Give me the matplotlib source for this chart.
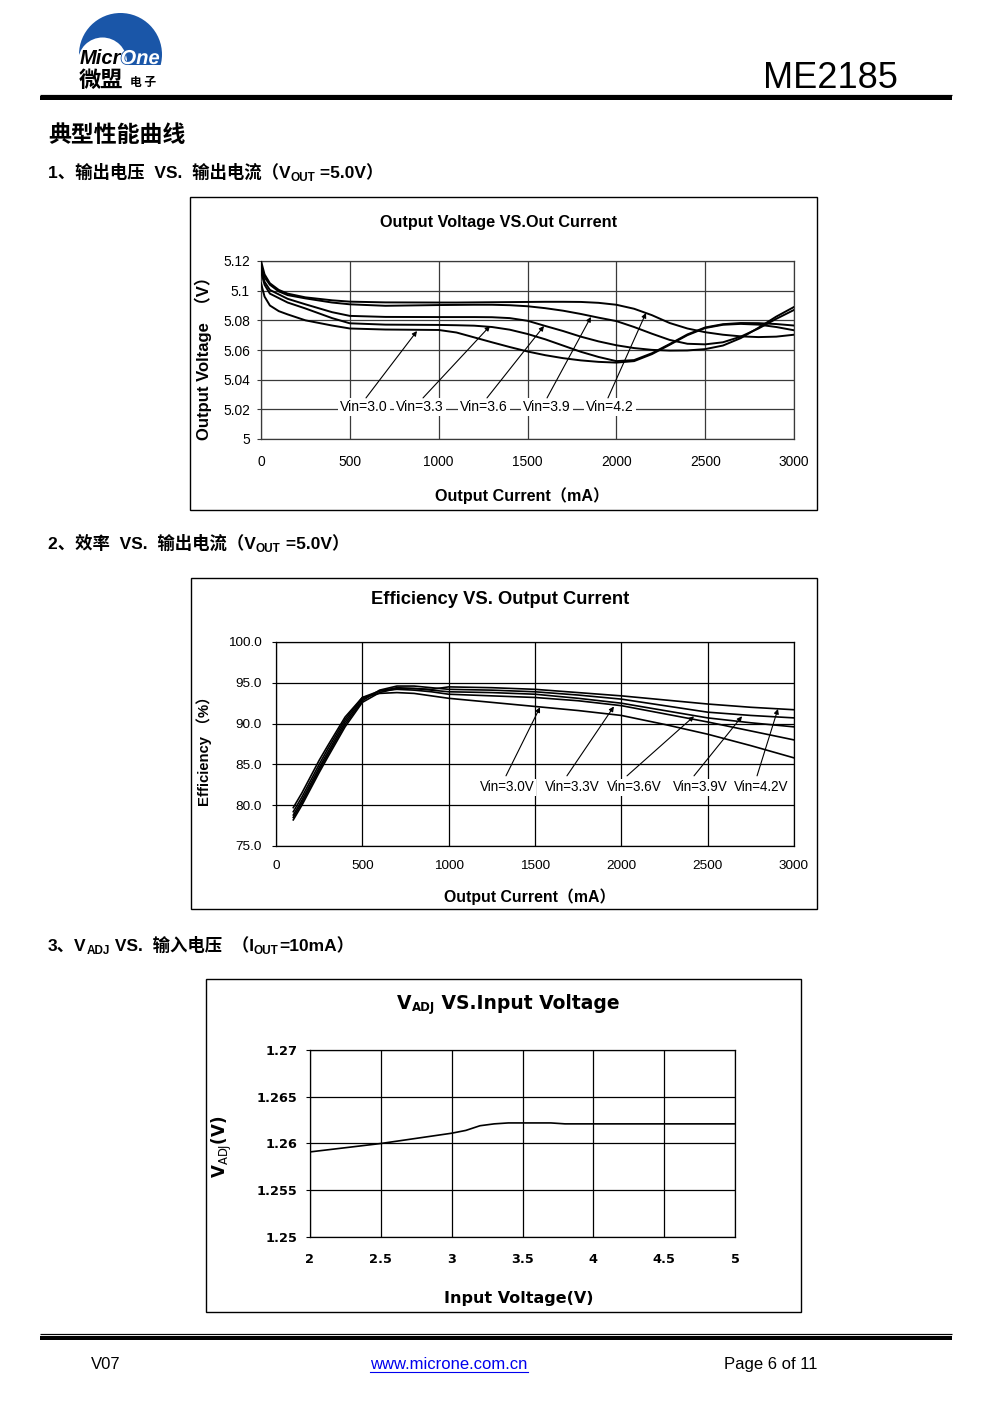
import matplotlib
matplotlib.use('Agg')
import matplotlib.pyplot as plt
from matplotlib import font_manager
from matplotlib.patches import Circle, Rectangle
import matplotlib.patheffects as pe

W, H = 991, 1403
names = {f.name for f in font_manager.fontManager.ttflist}
HAS_NARROW = 'Liberation Sans Narrow' in names
NARROW = 'Liberation Sans Narrow' if HAS_NARROW else 'Liberation Sans'
NK = 1.0 if HAS_NARROW else 0.92
SANS = 'Liberation Sans'
WIDE = 'DejaVu Sans'
CJK = 'Noto Sans CJK SC'
MIX = [SANS, CJK, 'DejaVu Sans']
NMIX = [NARROW, CJK, 'DejaVu Sans']
WMIX = [WIDE, CJK]

plt.rcParams['font.family'] = MIX
plt.rcParams['mathtext.fontset'] = 'dejavusans'

# ---------------- data: chart 1 (output voltage vs output current) ----------------
i_out1 = [0, 20, 50, 100, 150, 250, 400, 500, 700, 1000, 1100, 1200, 1300, 1400, 1500,
          1600, 1700, 1800, 1900, 2000, 2100, 2200, 2300, 2400, 2500, 2600, 2700, 2800,
          2900, 3000]
vout_42 = [5.120, 5.111, 5.105, 5.1005, 5.098, 5.0955, 5.0935, 5.0926, 5.0921, 5.0920, 5.0920,
           5.0921, 5.0922, 5.0923, 5.0924, 5.0925, 5.0925, 5.0924, 5.0918, 5.0905, 5.0878,
           5.0835, 5.0782, 5.0745, 5.0720, 5.0703, 5.0692, 5.0687, 5.0690, 5.0703]
vout_39 = [5.117, 5.109, 5.104, 5.0995, 5.097, 5.0948, 5.0920, 5.0908, 5.0898, 5.0903, 5.0904,
           5.0905, 5.0905, 5.0902, 5.0895, 5.0882, 5.0865, 5.0843, 5.0818, 5.0795, 5.0755,
           5.0710, 5.0668, 5.0642, 5.0638, 5.0652, 5.0690, 5.0745, 5.0810, 5.0870]
vout_36 = [5.115, 5.106, 5.1005, 5.0975, 5.0945, 5.0908, 5.0855, 5.0830, 5.0823, 5.0822, 5.0822,
           5.0822, 5.0821, 5.0815, 5.0797, 5.0762, 5.0728, 5.0690, 5.0658, 5.0632, 5.0613,
           5.0601, 5.0596, 5.0597, 5.0606, 5.0630, 5.0680, 5.0750, 5.0825, 5.0890]
vout_33 = [5.113, 5.104, 5.098, 5.095, 5.092, 5.088, 5.0815, 5.0780, 5.0771, 5.0769, 5.0767,
           5.0764, 5.0755, 5.0737, 5.0708, 5.0672, 5.0630, 5.0588, 5.0553, 5.0525, 5.0532,
           5.0578, 5.0640, 5.0705, 5.0752, 5.0774, 5.0782, 5.0781, 5.0775, 5.0765]
vout_30 = [5.105, 5.096, 5.090, 5.0862, 5.084, 5.0800, 5.0765, 5.0745, 5.0738, 5.0735, 5.0718,
           5.0685, 5.0652, 5.0620, 5.0590, 5.0565, 5.0545, 5.0530, 5.0520, 5.0515, 5.0525,
           5.0572, 5.0635, 5.0700, 5.0748, 5.0770, 5.0776, 5.0771, 5.0755, 5.0733]
labels1 = ['Vin=3.0', 'Vin=3.3', 'Vin=3.6', 'Vin=3.9', 'Vin=4.2']
xticks1 = [0, 500, 1000, 1500, 2000, 2500, 3000]
yticks1 = [5.00, 5.02, 5.04, 5.06, 5.08, 5.10, 5.12]
yticklabels1 = ['5', '5.02', '5.04', '5.06', '5.08', '5.1', '5.12']

# ---------------- data: chart 2 (efficiency vs output current) ----------------
i_out2 = [100, 150, 200, 250, 300, 400, 500, 600, 700, 800, 900, 1000, 1250, 1500, 1750,
          2000, 2250, 2500, 2750, 3000]
eff_42 = [78.2, 80.0, 82.0, 84.0, 85.9, 89.6, 92.6, 93.8, 94.3, 94.3, 94.2, 94.5, 94.4, 94.2,
          93.8, 93.4, 92.9, 92.4, 92.0, 91.7]
eff_39 = [78.5, 80.3, 82.3, 84.3, 86.2, 89.9, 92.8, 94.1, 94.6, 94.6, 94.4, 94.2, 94.1, 93.9,
          93.5, 93.0, 92.2, 91.4, 91.0, 90.7]
eff_36 = [78.8, 80.6, 82.6, 84.6, 86.5, 90.2, 93.0, 94.0, 94.4, 94.3, 94.1, 93.9, 93.8, 93.6,
          93.1, 92.5, 91.6, 90.7, 90.1, 89.6]
eff_33 = [79.2, 81.0, 83.0, 85.0, 86.9, 90.5, 93.2, 94.0, 94.2, 94.1, 93.9, 93.6, 93.4, 93.2,
          92.8, 92.2, 91.2, 90.2, 89.1, 88.0]
eff_30 = [79.7, 81.5, 83.5, 85.5, 87.3, 90.8, 93.2, 93.7, 93.8, 93.7, 93.4, 93.1, 92.6, 92.1,
          91.6, 91.0, 89.9, 88.7, 87.3, 85.8]
labels2 = ['Vin=3.0V', 'Vin=3.3V', 'Vin=3.6V', 'Vin=3.9V', 'Vin=4.2V']
xticks2 = [0, 500, 1000, 1500, 2000, 2500, 3000]
yticks2 = [75.0, 80.0, 85.0, 90.0, 95.0, 100.0]

# ---------------- data: chart 3 (VADJ vs input voltage) ----------------
vin3 = [2.0, 2.5, 3.0, 3.1, 3.2, 3.3, 3.4, 3.5, 3.6, 3.7, 3.75, 3.8, 4.0, 4.5, 5.0]
vadj3 = [1.2591, 1.2600, 1.2611, 1.2614, 1.2619, 1.2621, 1.2622, 1.2622, 1.2622, 1.2622,
         1.26215, 1.2621, 1.2621, 1.2621, 1.2621]
xticks3 = [2, 2.5, 3, 3.5, 4, 4.5, 5]
xticklabels3 = ['2', '2.5', '3', '3.5', '4', '4.5', '5']
yticks3 = [1.25, 1.255, 1.26, 1.265, 1.27]
yticklabels3 = ['1.25', '1.255', '1.26', '1.265', '1.27']

# ---------------- figure / page ----------------
fig = plt.figure(figsize=(W / 100, H / 100), dpi=100)
page = fig.add_axes([0, 0, 1, 1], zorder=0)
page.set_xlim(0, W)
page.set_ylim(H, 0)
page.axis('off')
renderer = fig.canvas.get_renderer()
PX = 0.72  # points per pixel


def hline(y, x0, x1, px):
    page.plot([x0, x1], [y, y], color='black', lw=px * PX, solid_capstyle='butt')


def box(x0, y0, x1, y1):
    page.add_patch(Rectangle((x0, y0), x1 - x0, y1 - y0, fill=False, ec='black', lw=1.0))


def seq(x, y, parts, weight='bold'):
    for s, size, dy, fam in parts:
        t = page.text(x, y + dy, s, fontsize=size, fontweight=weight, family=fam,
                      va='baseline', ha='left')
        x += t.get_window_extent(renderer).width
    return x


def chart_axes(x0, y0, x1, y1):
    return fig.add_axes([x0 / W, 1 - y1 / H, (x1 - x0) / W, (y1 - y0) / H], zorder=2)


# ---------------- header ----------------
blue = '#1a56a8'
clip = Rectangle((60, 0), 120, 65, transform=page.transData)
outer = Circle((120.5, 54.5), 41.5, fc=blue, ec='none', zorder=2)
page.add_patch(outer)
outer.set_clip_path(clip)
inner = Circle((102.5, 62), 24.5, fc='white', ec='none', zorder=3)
page.add_patch(inner)
inner.set_clip_path(clip)
tm = page.text(80, 64, 'Micr', fontsize=14.5, fontweight='bold', style='italic', family=SANS,
               color='black', va='baseline', ha='left', zorder=4)
mw = tm.get_window_extent(renderer).width
page.text(80 + mw - 1, 64, 'One', fontsize=14.5, fontweight='bold', style='italic', family=SANS,
          color='white', va='baseline', ha='left', zorder=4,
          path_effects=[pe.withStroke(linewidth=1.2, foreground=blue)])
page.text(79, 87, '微盟', fontsize=16, fontweight='bold', family=[CJK], va='baseline',
          ha='left', zorder=4)
page.text(130, 86, '电 子', fontsize=8.5, fontweight='bold', family=[CJK], va='baseline',
          ha='left', zorder=4)
page.text(898, 88, 'ME2185', fontsize=26, family=SANS, va='baseline', ha='right')
hline(94.5, 40, 952, 1.2)
hline(98, 40, 952, 4)

# ---------------- section headings ----------------
page.text(48, 142, '典型性能曲线', fontsize=16.5, fontweight='bold', family=[CJK],
          va='baseline', ha='left')
seq(48, 178, [('1、输出电压  VS.  输出电流（V', 12.5, 0, MIX), ('OUT', 8.5, 3, MIX),
              (' =5.0V）', 12.5, 0, MIX)])
seq(48, 549, [('2、效率  VS.  输出电流（V', 12.5, 0, MIX), ('OUT', 8.5, 3, MIX),
              (' =5.0V）', 12.5, 0, MIX)])
seq(48, 951, [('3、V', 12.5, 0, MIX), ('ADJ', 8.5, 3, MIX), (' VS.  输入电压  （I', 12.5, 0, MIX),
              ('OUT', 8.5, 3, MIX), ('=10mA）', 12.5, 0, MIX)])

GRID = '#3a3a3a'

# ---------------- chart 1 ----------------
box(190, 197, 817, 510)
page.text(499, 223, 'Output Voltage VS.Out Current', fontsize=12.7 * NK, fontweight='bold',
          family=NMIX, ha='center', va='center')
page.text(203, 354, 'Output Voltage  （V）', fontsize=12, fontweight='bold', family=MIX,
          rotation=90, ha='center', va='center')
page.text(522, 496, 'Output Current（mA）', fontsize=12.6 * NK, fontweight='bold', family=NMIX,
          ha='center', va='center')
ax1 = chart_axes(261, 261, 794, 439)
for v in [vout_30, vout_33, vout_36, vout_39, vout_42]:
    ax1.plot(i_out1, v, color='black', lw=1.4, zorder=3)
ax1.set_xlim(0, 3000)
ax1.set_ylim(5.0, 5.12)
ax1.set_xticks(xticks1)
ax1.set_xticklabels([str(t) for t in xticks1])
ax1.set_yticks(yticks1)
ax1.set_yticklabels(yticklabels1)
ax1.grid(True, color=GRID, lw=0.9)
for s in ax1.spines.values():
    s.set_color(GRID)
    s.set_linewidth(0.9)
ax1.tick_params(axis='y', length=3, pad=5, color=GRID)
ax1.tick_params(axis='x', length=0, pad=11.5)
for t in ax1.get_xticklabels() + ax1.get_yticklabels():
    t.set_family(NARROW)
    t.set_fontsize(10.8 * NK)
lab_x1 = [580, 895, 1255, 1610, 1964]
tail1 = [(591, 5.0277), (912, 5.0277), (1272, 5.0277), (1610, 5.0277), (1953, 5.0277)]
head1 = [(878, 5.0728), (1289, 5.0762), (1593, 5.0762), (1857, 5.0823), (2167, 5.0850)]
for lab, lx, tl, hd in zip(labels1, lab_x1, tail1, head1):
    ax1.text(lx, 5.0216, lab, fontsize=11 * NK, family=NARROW, ha='center', va='center',
             zorder=5, bbox=dict(fc='white', ec='none', pad=1.6))
    ax1.annotate('', xy=hd, xytext=tl, zorder=6,
                 arrowprops=dict(arrowstyle='-|>', color='black', lw=0.8,
                                 mutation_scale=7, shrinkA=0, shrinkB=0))

# ---------------- chart 2 ----------------
box(191, 578, 817, 909)
page.text(500, 600, 'Efficiency VS. Output Current', fontsize=13.2, fontweight='bold',
          family=MIX, ha='center', va='center')
page.text(204, 748, 'Efficiency （%）', fontsize=10.7, fontweight='bold', family=MIX,
          rotation=90, ha='center', va='center')
page.text(530, 897, 'Output Current（mA）', fontsize=11.4, fontweight='bold', family=MIX,
          ha='center', va='center')
ax2 = chart_axes(276, 642, 794, 846)
for v in [eff_30, eff_33, eff_36, eff_39, eff_42]:
    ax2.plot(i_out2, v, color='black', lw=1.2, zorder=3)
ax2.set_xlim(0, 3000)
ax2.set_ylim(75, 100)
ax2.set_xticks(xticks2)
ax2.set_xticklabels([str(t) for t in xticks2])
ax2.set_yticks(yticks2)
ax2.set_yticklabels(['%.1f' % t for t in yticks2])
ax2.grid(True, color='black', lw=0.9)
for s in ax2.spines.values():
    s.set_color('black')
    s.set_linewidth(0.9)
ax2.tick_params(axis='y', length=3, pad=7, labelsize=9.7)
ax2.tick_params(axis='x', length=0, pad=10, labelsize=9.7)
lab_x2 = [1338, 1714, 2073, 2456, 2809]
tail2 = [(1332, 83.6), (1685, 83.6), (2033, 83.6), (2421, 83.6), (2786, 83.6)]
head2 = [(1529, 92.0), (1957, 92.1), (2421, 90.9), (2699, 90.9), (2907, 91.8)]
for lab, lx, tl, hd in zip(labels2, lab_x2, tail2, head2):
    ax2.text(lx, 82.2, lab, fontsize=10.6 * NK, family=NARROW, ha='center', va='center',
             zorder=5, bbox=dict(fc='white', ec='none', pad=1.0))
    ax2.annotate('', xy=hd, xytext=tl, zorder=6,
                 arrowprops=dict(arrowstyle='-|>', color='black', lw=0.8,
                                 mutation_scale=7, shrinkA=0, shrinkB=0))

# ---------------- chart 3 ----------------
box(206, 979, 801, 1312)
seq(397, 1009, [('V', 13.5, 0, WMIX), ('ADJ', 8.5, 2, WMIX), (' VS.Input Voltage', 13.5, 0, WMIX)])
page.text(222, 1147, r'$\mathbf{V}_{\mathrm{ADJ}}\mathbf{(V)}$', fontsize=12,
          rotation=90, ha='center', va='center')
page.text(519, 1298, 'Input Voltage(V)', fontsize=11.5, fontweight='bold', family=WMIX,
          ha='center', va='center')
ax3 = chart_axes(310, 1050, 735, 1237)
ax3.plot(vin3, vadj3, color='black', lw=1.2, zorder=3)
ax3.set_xlim(2, 5)
ax3.set_ylim(1.25, 1.27)
ax3.set_xticks(xticks3)
ax3.set_xticklabels(xticklabels3)
ax3.set_yticks(yticks3)
ax3.set_yticklabels(yticklabels3)
ax3.grid(True, color='black', lw=0.9)
for s in ax3.spines.values():
    s.set_color('black')
    s.set_linewidth(0.9)
ax3.tick_params(axis='y', length=3, pad=6, labelsize=9.3)
ax3.tick_params(axis='x', length=0, pad=11.5, labelsize=9.3)
for t in ax3.get_xticklabels() + ax3.get_yticklabels():
    t.set_fontweight('bold')
    t.set_family(WIDE)

# ---------------- footer ----------------
hline(1334, 40, 952, 1.2)
hline(1338, 40, 952, 4)
page.text(91, 1369, 'V07', fontsize=12, family=SANS, va='baseline', ha='left')
link = page.text(449, 1369, 'www.microne.com.cn', fontsize=12, family=SANS, color='#0000ee',
                 va='baseline', ha='center')
lw_ = link.get_window_extent(renderer).width
page.plot([449 - lw_ / 2, 449 + lw_ / 2], [1371.5, 1371.5], color='#0000ee', lw=0.8)
page.text(724, 1369, 'Page 6 of 11', fontsize=12, family=SANS, va='baseline', ha='left')

fig.savefig('out.png', dpi=100)
